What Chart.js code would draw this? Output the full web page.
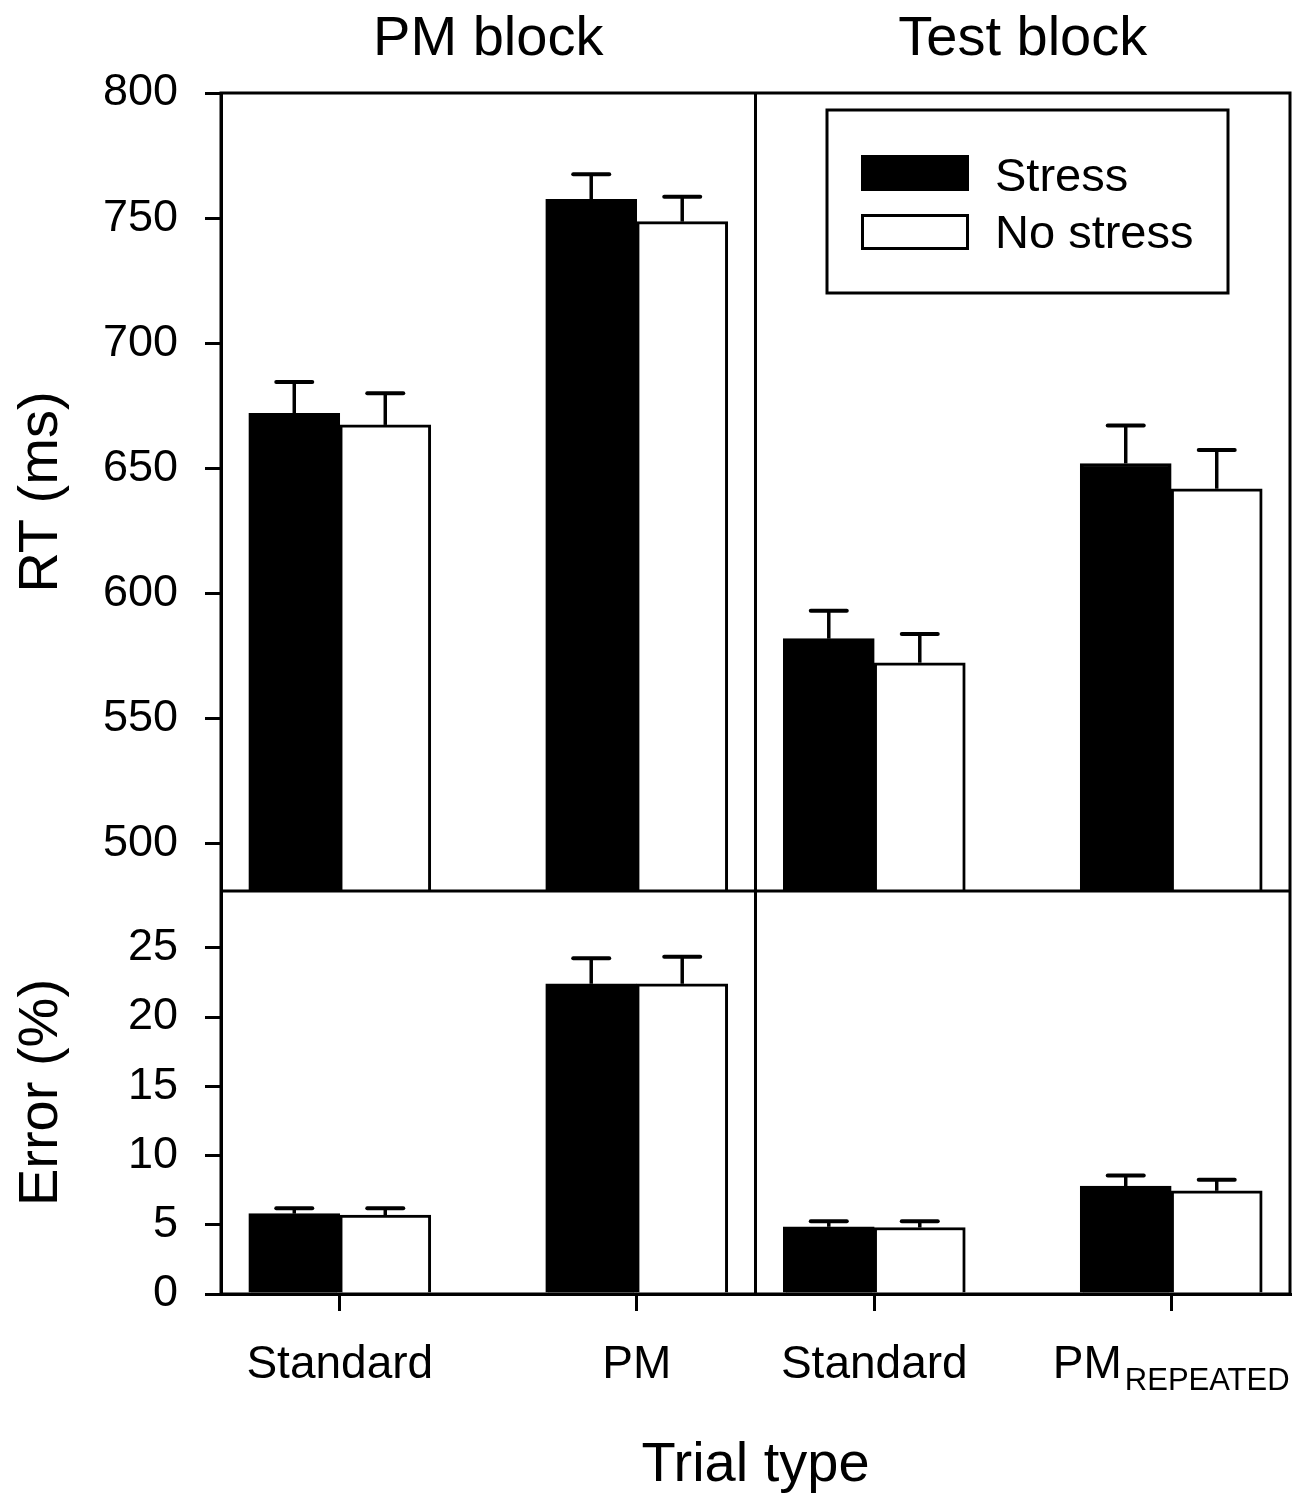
<!DOCTYPE html>
<html>
<head>
<meta charset="utf-8">
<script src="https://cdn.jsdelivr.net/npm/chart.js@4.4.1/dist/chart.umd.min.js"></script>
<style>
  body { margin: 0; background: #fff; }
  canvas { display: block; }
</style>
</head>
<body>
<canvas id="stressChart" width="1313" height="1496"></canvas>
<script>
const categories = ["Standard", "PM", "Standard", "PM"];
const categorySubs = ["", "", "", "REPEATED"];
const categoryPos = [1, 2, 2.8, 3.8];
const blocks = ["PM block", "Test block"];
const blockEdges = [0.6, 2.4, 4.2];

const rtStress = [672, 757.5, 582, 652];
const rtStressSem = [12.5, 10, 11.2, 15.2];
const rtNoStress = [667.4, 748.6, 572.4, 641.9];
const rtNoStressSem = [12.7, 10, 11.5, 15.5];

const errStress = [5.8, 22.4, 4.85, 7.8];
const errStressSem = [0.4, 1.85, 0.4, 0.75];
const errNoStress = [5.7, 22.4, 4.8, 7.45];
const errNoStressSem = [0.5, 1.95, 0.45, 0.8];

const rtTicks = [500, 550, 600, 650, 700, 750, 800];
const errTicks = [0, 5, 10, 15, 20, 25];
const rtRange = [481.2, 800];
const errRange = [0, 29.1];

const FONT = 'Arial, "Liberation Sans", sans-serif';
Chart.defaults.font.family = FONT;
Chart.defaults.color = "#000";

function points(values) {
  return values.map((v, i) => ({ x: categoryPos[i], y: v }));
}

const barStyle = {
  borderColor: "#000",
  borderWidth: 3,
  borderSkipped: "start",
  barThickness: 91,
};

// upward error bars (mean + SEM)
const semBars = {
  id: "semBars",
  afterDatasetsDraw(chart) {
    const ctx = chart.ctx;
    ctx.save();
    ctx.strokeStyle = "#000";
    chart.data.datasets.forEach((ds, di) => {
      const meta = chart.getDatasetMeta(di);
      const yScale = chart.scales[ds.yAxisID];
      meta.data.forEach((bar, i) => {
        const top = yScale.getPixelForValue(ds.data[i].y + ds.sem[i]);
        ctx.lineWidth = 3.5;
        ctx.lineCap = "butt";
        ctx.beginPath();
        ctx.moveTo(bar.x, bar.y);
        ctx.lineTo(bar.x, top);
        ctx.stroke();
        ctx.lineWidth = 4;
        ctx.lineCap = "round";
        ctx.beginPath();
        ctx.moveTo(bar.x - 18, top);
        ctx.lineTo(bar.x + 18, top);
        ctx.stroke();
      });
    });
    ctx.restore();
  },
};

// frame, panel dividers, block titles, category labels, legend
const panelDecor = {
  id: "panelDecor",
  afterDraw(chart) {
    const ctx = chart.ctx;
    const area = chart.chartArea;
    const xs = chart.scales.x;
    const yRT = chart.scales.yRT;
    ctx.save();
    ctx.strokeStyle = "#000";
    ctx.lineWidth = 3;
    ctx.strokeRect(area.left, area.top, area.right - area.left, area.bottom - area.top);
    ctx.beginPath();
    ctx.moveTo(area.left, yRT.bottom);
    ctx.lineTo(area.right, yRT.bottom);
    const midX = xs.getPixelForValue(blockEdges[1]);
    ctx.moveTo(midX, area.top);
    ctx.lineTo(midX, area.bottom);
    ctx.stroke();

    ctx.fillStyle = "#000";
    ctx.textBaseline = "alphabetic";
    ctx.textAlign = "center";
    ctx.font = "56px " + FONT;
    blocks.forEach((b, i) => {
      const cx = (xs.getPixelForValue(blockEdges[i]) + xs.getPixelForValue(blockEdges[i + 1])) / 2;
      ctx.fillText(b, cx, area.top - 38);
    });

    ctx.textAlign = "left";
    categories.forEach((c, i) => {
      const x = xs.getPixelForValue(categoryPos[i]);
      ctx.font = "46px " + FONT;
      const w1 = ctx.measureText(c).width;
      ctx.font = "31px " + FONT;
      const sub = categorySubs[i];
      const w2 = sub ? ctx.measureText(sub).width + 3 : 0;
      const left = x - (w1 + w2) / 2;
      ctx.font = "46px " + FONT;
      ctx.fillText(c, left, xs.top + 84);
      if (sub) {
        ctx.font = "31px " + FONT;
        ctx.fillText(sub, left + w1 + 3, xs.top + 96);
      }
    });

    // legend box
    const bx = area.right - 463;
    const by = area.top + 17;
    ctx.lineWidth = 3;
    ctx.strokeRect(bx, by, 401, 183);
    const names = [chart.data.datasets[0].label, chart.data.datasets[1].label];
    const fills = [chart.data.datasets[0].backgroundColor, chart.data.datasets[1].backgroundColor];
    ctx.font = "47px " + FONT;
    names.forEach((n, i) => {
      const sy = by + 45 + i * 59;
      ctx.fillStyle = fills[i];
      ctx.fillRect(bx + 34, sy, 108, 36);
      ctx.strokeRect(bx + 35.5, sy + 1.5, 105, 33);
      ctx.fillStyle = "#000";
      ctx.fillText(n, bx + 168, by + 81 + i * 57);
    });
    ctx.restore();
  },
};

function yAxisBase(title, range, tickValues, weight) {
  return {
    type: "linear",
    position: "left",
    stack: "panels",
    stackWeight: weight,
    stacked: false,
    min: range[0],
    max: range[1],
    afterBuildTicks: (scale) => {
      scale.ticks = tickValues.map((v) => ({ value: v }));
    },
    afterFit: (scale) => {
      scale.width = 221;
    },
    grid: {
      drawOnChartArea: false,
      drawTicks: true,
      tickLength: 16,
      lineWidth: 3,
      color: "#000",
    },
    border: { display: true, color: "#000", width: 3 },
    ticks: { font: { size: 45 }, color: "#000", padding: 27, autoSkip: false },
    title: {
      display: true,
      text: title,
      color: "#000",
      font: { size: 56, lineHeight: 1 },
      padding: { top: 14, bottom: 0 },
    },
  };
}

const ctx = document.getElementById("stressChart").getContext("2d");

new Chart(ctx, {
  type: "bar",
  data: {
    datasets: [
      { label: "Stress", data: points(rtStress), sem: rtStressSem, yAxisID: "yRT", stack: "stress", backgroundColor: "#000", base: rtRange[0], ...barStyle },
      { label: "No stress", data: points(rtNoStress), sem: rtNoStressSem, yAxisID: "yRT", stack: "nostress", backgroundColor: "#fff", base: rtRange[0], ...barStyle },
      { label: "Stress", data: points(errStress), sem: errStressSem, yAxisID: "yErr", stack: "stress", backgroundColor: "#000", base: errRange[0], ...barStyle },
      { label: "No stress", data: points(errNoStress), sem: errNoStressSem, yAxisID: "yErr", stack: "nostress", backgroundColor: "#fff", base: errRange[0], ...barStyle },
    ],
  },
  options: {
    responsive: false,
    animation: false,
    layout: { padding: { top: 93, right: 23, left: 0, bottom: 0 } },
    plugins: {
      legend: { display: false },
      tooltip: { enabled: false },
    },
    scales: {
      x: {
        type: "linear",
        stacked: true,
        offset: false,
        min: blockEdges[0],
        max: blockEdges[2],
        afterBuildTicks: (scale) => {
          scale.ticks = categoryPos.map((v) => ({ value: v }));
        },
        afterFit: (scale) => {
          scale.height = 202;
        },
        grid: {
          offset: false,
          drawOnChartArea: false,
          drawTicks: true,
          tickLength: 17,
          lineWidth: 3,
          color: "#000",
        },
        border: { display: true, color: "#000", width: 3 },
        ticks: { display: false },
        title: {
          display: true,
          text: "Trial type",
          color: "#000",
          font: { size: 56, lineHeight: 1 },
          padding: { top: 0, bottom: 2 },
        },
      },
      // stacked left axes: the later one is placed on top
      yErr: yAxisBase("Error (%)", errRange, errTicks, 403),
      yRT: yAxisBase("RT (ms)", rtRange, rtTicks, 798),
    },
  },
  plugins: [semBars, panelDecor],
});
</script>
</body>
</html>
